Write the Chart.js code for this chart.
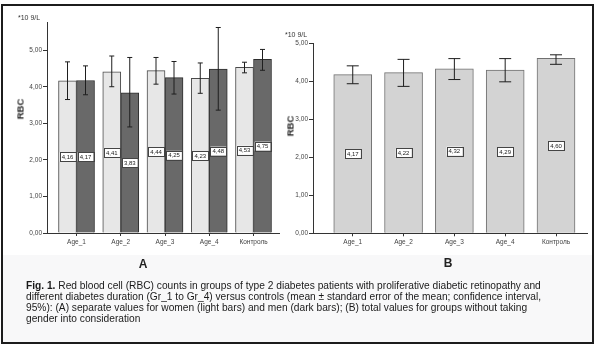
<!DOCTYPE html>
<html>
<head>
<meta charset="utf-8">
<script src="https://cdn.jsdelivr.net/npm/chart.js@4/dist/chart.umd.min.js"></script>
<style>
  body { margin: 0; width: 600px; height: 349px; background: #fff; position: relative; overflow: hidden;
         font-family: "Liberation Sans", Arial, sans-serif; color: #222; }
  #frame { position: absolute; left: 1px; top: 4px; width: 593px; height: 340px; box-sizing: border-box;
           border: 2px solid #1c1c1c; background: #f8f8f9; }
  #plotBg { position: absolute; left: 3px; top: 6px; width: 589px; height: 249px; background: #fff; }
  canvas { position: absolute; top: 0; }
  #chartA { left: 0; }
  #chartB { left: 283px; }
  .txt { position: absolute; white-space: nowrap; }
  .unit { font-size: 7px; color: #333; }
  .ytitle { font-size: 9.5px; font-weight: bold; transform: translate(-50%, -50%) rotate(-90deg); }
  .panel { font-size: 12px; font-weight: bold; transform: translate(-50%, -50%); }
  #caption { position: absolute; left: 26px; top: 280px; font-size: 10.2px; line-height: 11px; color: #1a1a1a; }
</style>
</head>
<body>
<div id="frame"></div>
<div id="plotBg"></div>
<canvas id="chartA" width="290" height="260"></canvas>
<canvas id="chartB" width="310" height="260"></canvas>

<div class="txt unit" style="left:18px; top:14px;">*10 9/L</div>
<div class="txt unit" style="left:285px; top:31px;">*10 9/L</div>
<div class="txt ytitle" style="left:20px; top:109px;">RBC</div>
<div class="txt ytitle" style="left:290px; top:126px;">RBC</div>
<div class="txt panel" style="left:143px; top:264px;">A</div>
<div class="txt panel" style="left:448px; top:263px;">B</div>
<div id="caption"><b>Fig. 1.</b> Red blood cell (RBC) counts in groups of type 2 diabetes patients with proliferative diabetic retinopathy and<br>different diabetes duration (Gr_1 to Gr_4) versus controls (mean ± standard error of the mean; confidence interval,<br>95%): (A) separate values for women (light bars) and men (dark bars); (B) total values for groups without taking<br>gender into consideration</div>

<script>
const groups = ['Age_1', 'Age_2', 'Age_3', 'Age_4', 'Контроль'];
const yTicks = [0, 1, 2, 3, 4, 5];

// panel A: women (light) and men (dark)
const women = [4.16, 4.41, 4.44, 4.23, 4.53];
const womenLow = [3.65, 4.00, 4.07, 3.82, 4.38];
const womenHigh = [4.68, 4.84, 4.80, 4.65, 4.67];
const men = [4.17, 3.83, 4.25, 4.48, 4.75];
const menLow = [3.78, 2.90, 3.80, 3.36, 4.45];
const menHigh = [4.57, 4.80, 4.69, 5.62, 5.02];

// panel B: all patients
const total = [4.17, 4.22, 4.32, 4.29, 4.60];
const totalLow = [3.93, 3.86, 4.04, 3.98, 4.44];
const totalHigh = [4.40, 4.57, 4.59, 4.59, 4.69];

const fmt = v => v.toFixed(2).replace('.', ',');
const tickFont = { family: 'Liberation Sans', size: 6.5 };

const errorBars = {
  id: 'errorBars',
  afterDatasetsDraw(chart, args, opts) {
    const ctx = chart.ctx;
    const y = chart.scales.y;
    ctx.save();
    chart.data.datasets.forEach((ds, di) => {
      chart.getDatasetMeta(di).data.forEach((bar, i) => {
        const x = bar.x;
        const lo = y.getPixelForValue(ds.errLow[i]);
        const hi = y.getPixelForValue(ds.errHigh[i]);
        ctx.strokeStyle = '#1e1e1e';
        ctx.lineWidth = 1;
        ctx.beginPath();
        ctx.moveTo(x, lo); ctx.lineTo(x, hi);
        ctx.moveTo(x - opts.cap, lo); ctx.lineTo(x + opts.cap, lo);
        ctx.moveTo(x - opts.cap, hi); ctx.lineTo(x + opts.cap, hi);
        ctx.stroke();

        // value box in the middle of the bar
        const v = ds.data[i].y;
        const yy = y.getPixelForValue(v / 2);
        const txt = fmt(v);
        ctx.font = opts.font + 'px "Liberation Sans"';
        const w = ctx.measureText(txt).width + 4;
        const h = opts.font + 3;
        ctx.fillStyle = '#fff';
        ctx.fillRect(x - w / 2, yy - h / 2, w, h);
        ctx.strokeStyle = '#444';
        ctx.strokeRect(Math.round(x - w / 2) + 0.5, Math.round(yy - h / 2) + 0.5, Math.round(w), Math.round(h));
        ctx.fillStyle = '#222';
        ctx.textAlign = 'center';
        ctx.textBaseline = 'middle';
        ctx.fillText(txt, x, yy + 0.5);
      });
    });
    ctx.restore();
  }
};

function points(vals) {
  return vals.map((v, i) => ({ x: i + 1, y: v }));
}

function makeOptions(o) {
  return {
    responsive: false,
    animation: false,
    layout: { padding: { top: o.top, right: o.right, left: 0, bottom: 0 } },
    plugins: {
      legend: { display: false },
      tooltip: { enabled: false },
      errorBars: { cap: o.cap, font: o.labelFont }
    },
    scales: {
      x: {
        type: 'linear',
        offset: false,
        min: o.xMin,
        max: o.xMax,
        afterBuildTicks: s => { s.ticks = groups.map((g, i) => ({ value: i + 1 })); },
        afterFit: s => { s.height = o.xHeight; },
        ticks: { callback: v => groups[v - 1], autoSkip: false, maxRotation: 0, font: tickFont, color: '#444', padding: 2 },
        grid: { drawOnChartArea: false, tickLength: 3, color: '#333', offset: false },
        border: { color: '#333', width: 1 }
      },
      y: {
        min: 0,
        max: o.yMax,
        afterBuildTicks: s => { s.ticks = yTicks.map(v => ({ value: v })); },
        afterFit: s => { s.width = o.yWidth; },
        ticks: { callback: v => fmt(v), font: tickFont, color: '#444', padding: 1 },
        grid: { drawOnChartArea: false, tickLength: 4, color: '#333' },
        border: { color: '#333', width: 1 }
      }
    }
  };
}

new Chart(document.getElementById('chartA').getContext('2d'), {
  type: 'bar',
  data: {
    datasets: [
      { label: 'women', data: points(women), errLow: womenLow, errHigh: womenHigh,
        backgroundColor: '#e7e7e7', borderColor: '#4a4a4a', borderWidth: 1, barThickness: 18 },
      { label: 'men', data: points(men), errLow: menLow, errHigh: menHigh,
        backgroundColor: '#696969', borderColor: '#2e2e2e', borderWidth: 1, barThickness: 18 }
    ]
  },
  options: makeOptions({ top: 22, right: 11, xHeight: 27, yWidth: 47, yMax: 5.77,
                         xMin: 0.333, xMax: 5.576, cap: 2.5, labelFont: 6 }),
  plugins: [errorBars]
});

new Chart(document.getElementById('chartB').getContext('2d'), {
  type: 'bar',
  data: {
    datasets: [
      { label: 'total', data: points(total), errLow: totalLow, errHigh: totalHigh,
        backgroundColor: '#d3d3d3', borderColor: '#707070', borderWidth: 1, barThickness: 38 }
    ]
  },
  options: makeOptions({ top: 43, right: 6, xHeight: 26.7, yWidth: 30, yMax: 5.0,
                         xMin: 0.218, xMax: 5.61, cap: 6, labelFont: 6 }),
  plugins: [errorBars]
});
</script>
</body>
</html>
